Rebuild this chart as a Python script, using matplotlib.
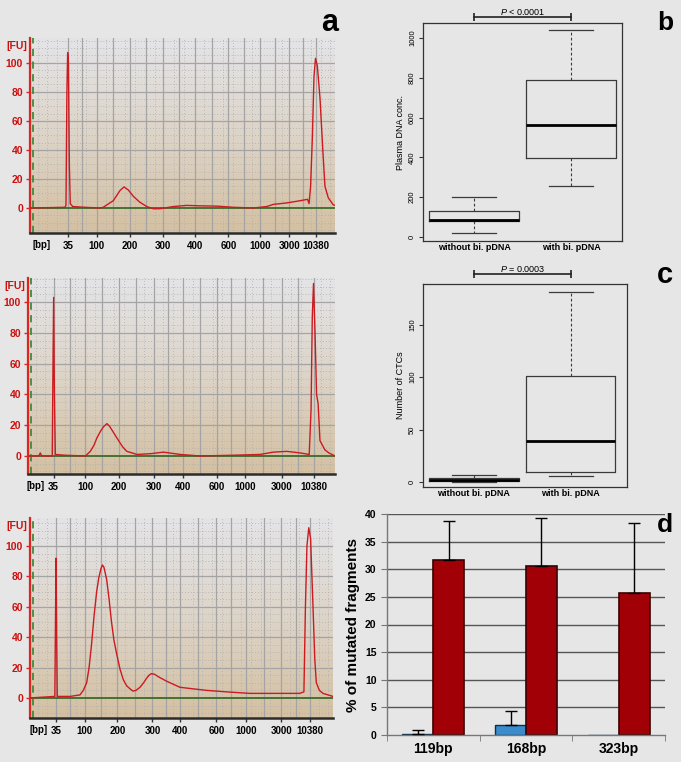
import numpy as np
import matplotlib.pyplot as plt
from matplotlib.colors import LinearSegmentedColormap

plt.rcParams['font.family'] = ['Liberation Sans', 'DejaVu Sans']
plt.rcParams['mathtext.fontset'] = 'custom'
plt.rcParams['mathtext.it'] = 'Liberation Sans:italic'
plt.rcParams['mathtext.rm'] = 'Liberation Sans'

# ---- Data ----
# electropherograms: migration position (0-100 of the x range) vs fluorescence [FU]
bp_labels = ['35', '100', '200', '300', '400', '600', '1000', '3000', '10380']

a1_ticks = [12.35, 21.9, 32.8, 43.5, 54.1, 65.0, 75.4, 85.0, 93.8]
a1_pos = [0, 11.5, 11.8, 12.1, 12.35, 12.6, 12.9, 13.2, 14, 18, 23, 24, 27.3, 29.5, 30.8,
          32.2, 33.9, 36, 38.3, 40.4, 42.6, 47, 51.4, 55.7, 61.2, 66.7, 73.2, 77.6, 79.8,
          84.2, 88.5, 91.0, 91.5, 92.0, 92.6, 93.1, 93.6, 94.2, 95.1, 96.0, 96.7, 97.8, 99.5, 100]
a1_fu = [0, 0.5, 2, 80, 107, 100, 30, 3, 1, 0.5, 0, 0.5, 5, 12, 14.5,
         12.5, 8, 4, 1, -0.5, -0.5, 1, 1.8, 1.5, 1.3, 0.5, 0, 1, 2.5,
         3.5, 5, 6, 3, 15, 50, 90, 103, 98, 75, 40, 15, 7, 2, 2]

a2_ticks = [8.35, 18.7, 29.5, 40.9, 50.4, 61.5, 70.7, 82.6, 93.0]
a2_pos = [0, 3.5, 4.0, 4.5, 7.9, 8.1, 8.35, 8.6, 8.9, 12, 18.7, 20.3, 21.5, 22.5, 23.6, 24.6,
          25.7, 26.5, 27.3, 28.4, 29.5, 30.8, 32.2, 35.5, 40, 44.1, 49.6, 56.1, 66.9, 75.6,
          79.9, 84.3, 88.6, 91.6, 92.2, 92.6, 93.0, 93.5, 94.0, 94.5, 95.1, 96.7, 98, 100]
a2_fu = [0, 0, 2, 0, 0, 50, 103, 40, 1, 0.5, 0, 3, 7, 12, 16, 19,
         21, 19.5, 17, 13.5, 10, 6, 3, 1, 1.5, 2.5, 1, 0, 0.5, 1,
         2.5, 3, 2, 1, 30, 90, 112, 80, 40, 34, 10, 4, 2, 0]

a3_ticks = [8.6, 18.1, 28.8, 40.4, 49.5, 61.5, 71.4, 83.0, 92.3]
a3_pos = [0, 8.2, 8.45, 8.6, 8.8, 9.0, 13.2, 16.5, 17.6, 18.7, 19.5, 20.3, 21.2, 22, 22.7,
          23.4, 23.9, 24.4, 25.3, 26.1, 26.9, 27.7, 28.6, 29.7, 30.8, 31.9, 33, 34, 35, 36.3,
          37.5, 38.5, 39.3, 40.1, 41.2, 42.3, 45.1, 49.5, 53.8, 58.2, 64.8, 72.5, 83.5, 89,
          90.4, 90.9, 91.4, 92, 92.6, 93.4, 94.0, 94.5, 95.5, 96.7, 100]
a3_fu = [0, 1, 60, 92, 40, 1, 1, 2, 5, 10, 20, 35, 55, 70, 79,
         85, 87.5, 86, 78, 65, 50, 38, 29, 19, 12, 8, 6, 4.5, 5, 7,
         10, 13, 15, 16, 15.5, 14, 11, 7, 6, 5, 4, 3, 3, 3,
         4, 60, 100, 112, 105, 60, 25, 10, 5, 3, 1]

# box plots
groups = ['without bi. pDNA', 'with bi. pDNA']
b_whislo = [22, 258]
b_q1 = [79, 399]
b_med = [87, 563]
b_q3 = [131, 787]
b_whishi = [199, 1039]

c_whislo = [0, 6]
c_q1 = [1.3, 9.3]
c_med = [2.2, 39.3]
c_q3 = [3.5, 101]
c_whishi = [7, 181]

# bar chart
fragments = ['119bp', '168bp', '323bp']
blue_vals = [0.2, 1.9, 0.0]
blue_err = [0.65, 2.5, 0.0]
red_vals = [31.7, 30.5, 25.7]
red_err = [7.1, 8.8, 12.7]

# ---- Figure ----
W, H = 681, 762
BG = '#e6e6e6'
fig = plt.figure(figsize=(W / 100, H / 100), dpi=100, facecolor=BG)


def rect(l, t, r, b):
    return [l / W, 1 - b / H, (r - l) / W, (b - t) / H]


bg_cmap = LinearSegmentedColormap.from_list('bg', ['#d4c0a2', '#ddd4c8', '#e4e4e7'])


def egram(box, ylim, pos, fu, ticks, bp_x):
    ax = fig.add_axes(rect(*box))
    ax.set_xlim(0, 100)
    ax.set_ylim(*ylim)
    grad = np.linspace(0, 1, 256).reshape(-1, 1)
    ax.imshow(grad, cmap=bg_cmap, origin='lower', aspect='auto',
              extent=[0, 100, ylim[0], ylim[1]], zorder=0)
    for v in np.arange(-15, ylim[1], 5):
        if v == 0:
            continue
        if v % 20 == 0:
            ax.axhline(v, color='#a4a4a4', lw=0.9, zorder=1)
        else:
            ax.axhline(v, color='#adadad', lw=0.6, ls=(0, (1, 2.5)), zorder=1)
    majors = list(ticks) + [(a + b) / 2 for a, b in zip(ticks[:-1], ticks[1:])]
    for v in majors:
        ax.axvline(v, color='#a4a4a4', lw=0.9, zorder=1)
    for v in np.arange(2.5, 100, 3.2):
        if min(abs(v - m) for m in majors) > 1.0:
            ax.axvline(v, color='#adadad', lw=0.6, ls=(0, (1, 2.5)), zorder=1)
    ax.axhline(0, color='#3b6b2a', lw=1.3, zorder=2)
    ax.axvline(1.0, color='#3f8a3a', lw=1.3, ls=(0, (4, 3)), zorder=2)
    ax.plot(pos, fu, color='#cc1a1f', lw=1.0, zorder=3)
    for s in ['top', 'right']:
        ax.spines[s].set_visible(False)
    ax.spines['left'].set_color('#e02424')
    ax.spines['left'].set_linewidth(1.6)
    ax.spines['bottom'].set_color('#2b2b2b')
    ax.spines['bottom'].set_linewidth(1.8)
    ax.set_yticks([0, 20, 40, 60, 80, 100])
    ax.set_yticklabels(['0', '20', '40', '60', '80', '100'], color='#cc1010',
                       fontweight='bold', fontsize=7.5)
    ax.tick_params(axis='y', color='#e02424', length=3, width=1, pad=2)
    ax.set_xticks(ticks)
    ax.set_xticklabels(bp_labels, fontweight='bold', fontsize=7)
    ax.tick_params(axis='x', color='#333333', length=3, width=1, pad=3)
    ax.text(-0.01, 0.96, '[FU]', transform=ax.transAxes, ha='right', va='center',
            color='#cc1010', fontweight='bold', fontsize=7.5)
    ax.text(bp_x, -12 / (box[3] - box[1]), '[bp]', transform=ax.get_xaxis_transform(),
            ha='center', va='center', fontweight='bold', fontsize=7)
    return ax


egram((30, 38, 335, 233), (-17.2, 117), a1_pos, a1_fu, a1_ticks, 3.9)
egram((28, 278, 335, 474), (-11.7, 115.6), a2_pos, a2_fu, a2_ticks, 2.6)
egram((30, 518, 333, 718), (-13.2, 118.4), a3_pos, a3_fu, a3_ticks, 2.9)


def boxpanel(box, ylim, xlim, whislo, q1, med, q3, whishi, yticks, ylabel, ptext, pbar_y):
    ax = fig.add_axes(rect(*box))
    ax.set_facecolor('none')
    stats = [dict(whislo=whislo[i], q1=q1[i], med=med[i], q3=q3[i], whishi=whishi[i])
             for i in range(2)]
    ax.bxp(stats, positions=[1, 2], widths=0.92, capwidths=0.46, showfliers=False,
           boxprops=dict(color='#3a3a3a', lw=0.9),
           medianprops=dict(color='black', lw=2),
           whiskerprops=dict(color='#3a3a3a', lw=0.8, ls=(0, (2.5, 2))),
           capprops=dict(color='#3a3a3a', lw=0.9))
    ax.set_xlim(*xlim)
    ax.set_ylim(*ylim)
    for s in ax.spines.values():
        s.set_color('#333333')
        s.set_linewidth(0.9)
    ax.set_yticks(yticks)
    ax.set_yticklabels([str(v) for v in yticks], rotation=90, va='center', fontsize=5.5)
    ax.tick_params(axis='y', length=3, width=0.8, color='#333333', pad=2)
    ax.set_xticks([1, 2])
    ax.set_xticklabels(groups, fontweight='bold', fontsize=6.5)
    ax.tick_params(axis='x', length=0, pad=1.5)
    ax.set_ylabel(ylabel, fontsize=6.5, labelpad=3)
    ax.plot([1, 2], [pbar_y, pbar_y], color='#222222', lw=1.2, marker='|',
            markersize=6, mew=1.2, clip_on=False)
    ax.text(1.5, pbar_y, ptext, ha='center', va='bottom', fontsize=6.5)
    return ax


boxpanel((423, 23, 622, 241), (-20, 1075), (0.474, 2.526),
         b_whislo, b_q1, b_med, b_q3, b_whishi, [0, 200, 400, 600, 800, 1000],
         'Plasma DNA conc.', r'$P$ < 0.0001', 1105)
boxpanel((423, 284, 627, 487), (-4.8, 189), (0.474, 2.58),
         c_whislo, c_q1, c_med, c_q3, c_whishi, [0, 50, 100, 150],
         'Number of CTCs', r'$P$ = 0.0003', 198.7)

# bar chart
ax = fig.add_axes(rect(387, 514, 665, 735))
ax.set_facecolor('none')
x = np.arange(len(fragments))
ax.set_xlim(-0.5, 2.5)
ax.set_ylim(0, 40)
for v in range(5, 45, 5):
    ax.axhline(v, color='#555555', lw=1, zorder=0)
ax.bar(x - 0.167, blue_vals, 0.333, color='#3a8ccc', edgecolor='#0b2f4f', lw=1, zorder=2)
ax.bar(x + 0.167, red_vals, 0.333, color='#a10006', edgecolor='#3a0000', lw=1.2, zorder=2)
bv = np.array(blue_vals)
be = np.array(blue_err)
m = be > 0
ax.errorbar(x[m] - 0.167, bv[m], yerr=[np.zeros(m.sum()), be[m]], fmt='none',
            ecolor='black', elinewidth=1, capsize=4, capthick=1, zorder=3)
ax.errorbar(x + 0.167, red_vals, yerr=[np.zeros(3), red_err], fmt='none',
            ecolor='black', elinewidth=1, capsize=4, capthick=1, zorder=3)
for s in ['top', 'right']:
    ax.spines[s].set_visible(False)
for s in ['left', 'bottom']:
    ax.spines[s].set_color('#777777')
    ax.spines[s].set_linewidth(1)
ax.set_yticks(range(0, 45, 5))
ax.set_yticklabels([str(v) for v in range(0, 45, 5)], fontweight='bold', fontsize=7.5)
ax.tick_params(axis='y', length=4, color='#777777')
ax.set_xticks(x)
ax.set_xticklabels(fragments, fontweight='bold', fontsize=10)
ax.set_xticks([-0.5, 0.5, 1.5, 2.5], minor=True)
ax.tick_params(axis='x', which='major', length=0, pad=5)
ax.tick_params(axis='x', which='minor', length=4, color='#777777')
ax.set_ylabel('% of mutated fragments', fontweight='bold', fontsize=11, labelpad=4)

# panel letters
for lx, ly, lt, fs in [(330, 23, 'a', 22), (665, 23, 'b', 19), (665, 275, 'c', 21), (665, 525, 'd', 19)]:
    fig.text(lx / W, 1 - ly / H, lt, ha='center', va='center', fontsize=fs, fontweight='bold')

fig.savefig('out.png', dpi=100, facecolor=BG)
